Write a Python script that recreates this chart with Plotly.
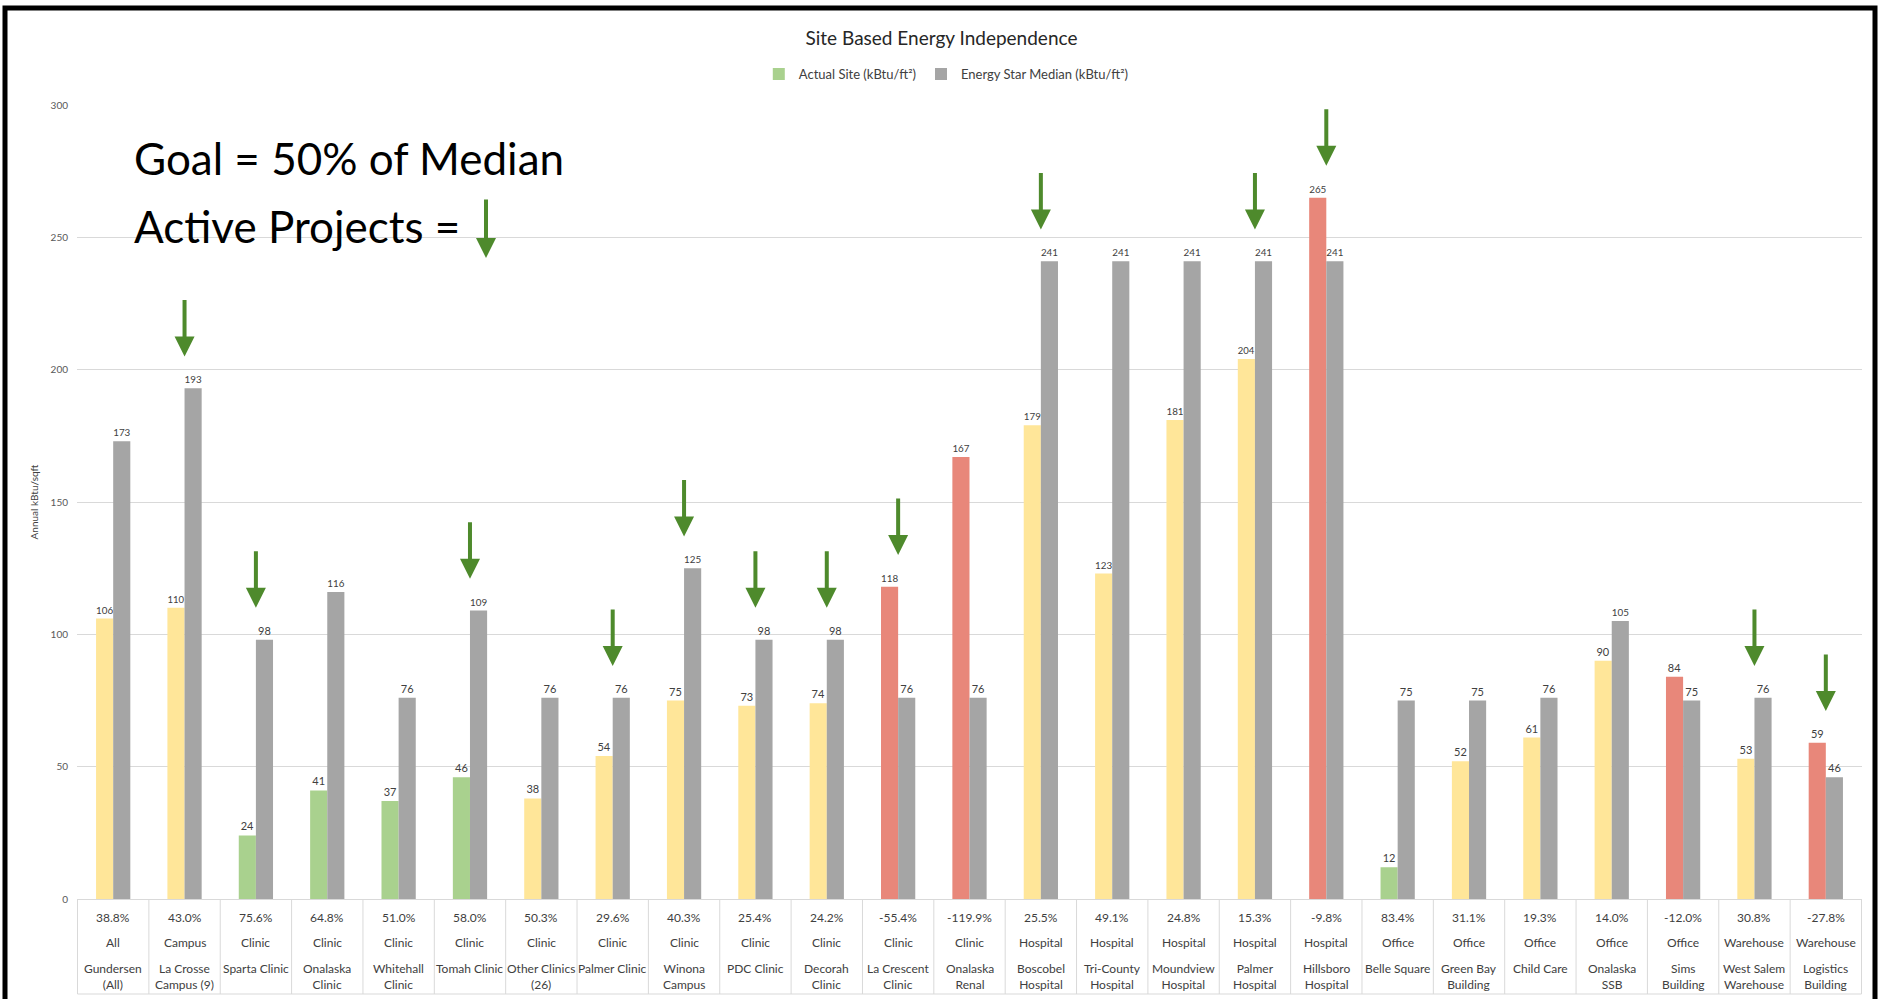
import plotly.graph_objects as go

# ---------------- data ----------------
site_names = [
    "Gundersen\n(All)", "La Crosse\nCampus (9)", "Sparta Clinic", "Onalaska\nClinic",
    "Whitehall\nClinic", "Tomah Clinic", "Other Clinics\n(26)", "Palmer Clinic",
    "Winona\nCampus", "PDC Clinic", "Decorah\nClinic", "La Crescent\nClinic",
    "Onalaska\nRenal", "Boscobel\nHospital", "Tri-County\nHospital", "Moundview\nHospital",
    "Palmer\nHospital", "Hillsboro\nHospital", "Belle Square", "Green Bay\nBuilding",
    "Child Care", "Onalaska\nSSB", "Sims\nBuilding", "West Salem\nWarehouse",
    "Logistics\nBuilding",
]
building_types = [
    "All", "Campus", "Clinic", "Clinic", "Clinic", "Clinic", "Clinic", "Clinic",
    "Clinic", "Clinic", "Clinic", "Clinic", "Clinic", "Hospital", "Hospital",
    "Hospital", "Hospital", "Hospital", "Office", "Office", "Office", "Office",
    "Office", "Warehouse", "Warehouse",
]
savings_pct = [
    38.8, 43.0, 75.6, 64.8, 51.0, 58.0, 50.3, 29.6, 40.3, 25.4, 24.2, -55.4,
    -119.9, 25.5, 49.1, 24.8, 15.3, -9.8, 83.4, 31.1, 19.3, 14.0, -12.0, 30.8, -27.8,
]
actual_site = [
    106, 110, 24, 41, 37, 46, 38, 54, 75, 73, 74, 118, 167, 179, 123, 181, 204,
    265, 12, 52, 61, 90, 84, 53, 59,
]
energy_star_median = [
    173, 193, 98, 116, 76, 109, 76, 76, 125, 98, 98, 76, 76, 241, 241, 241, 241,
    241, 75, 75, 76, 105, 75, 76, 46,
]
goal_status = [
    "progress", "progress", "met", "met", "met", "met", "progress", "progress",
    "progress", "progress", "progress", "over", "over", "progress", "progress",
    "progress", "progress", "over", "met", "progress", "progress", "progress",
    "over", "progress", "over",
]
active_project = [
    False, True, True, False, False, True, False, True, True, True, True, True,
    False, True, False, False, True, True, False, False, False, False, False,
    True, True,
]

# ---------------- styling ----------------
FONT = "Lato"
STATUS_COLORS = {"met": "#A9D18E", "progress": "#FFE699", "over": "#E8877A"}
MEDIAN_COLOR = "#A5A5A5"
ARROW_COLOR = "#4E8A2C"
GRID = "#D9D9D9"
TABLE_TEXT = "#404040"

W, H = 1883, 999
ML, MR, MT, MB = 77, 21, 105, 100
PW, PH = W - ML - MR, H - MT - MB


def px_x(px):
    return (px - ML) / PW


def px_y(py):
    return (H - MB - py) / PH


x_keys = [n.replace("\n", " ") for n in site_names]

fig = go.Figure()

for status in ["met", "progress", "over"]:
    ys = [a if s == status else None for a, s in zip(actual_site, goal_status)]
    fig.add_trace(go.Bar(
        x=x_keys, y=ys, name="Actual Site (kBtu/ft²)",
        marker=dict(color=STATUS_COLORS[status], line=dict(width=0)),
        offsetgroup="actual", legendgroup="actual",
        showlegend=(status == "met"),
        texttemplate="%{y:.0f}", textposition="outside",
        outsidetextfont=dict(family=FONT, size=11, color="#404040"),
        cliponaxis=False,
    ))

fig.add_trace(go.Bar(
    x=x_keys, y=energy_star_median, name="Energy Star Median (kBtu/ft²)",
    marker=dict(color=MEDIAN_COLOR, line=dict(width=0)),
    offsetgroup="median",
    texttemplate="%{y:.0f}", textposition="outside",
    outsidetextfont=dict(family=FONT, size=11, color="#404040"),
    cliponaxis=False,
))

annotations = []
# active project arrows
for key, a, m, act in zip(x_keys, actual_site, energy_star_median, active_project):
    if act:
        annotations.append(dict(
            x=key, y=max(a, m) + 12, xref="x", yref="y", text="",
            showarrow=True, ax=0, ay=-58, arrowhead=2, arrowsize=1,
            arrowwidth=4, arrowcolor=ARROW_COLOR,
        ))

# data table rows under the axis
for key, p, t, n in zip(x_keys, savings_pct, building_types, site_names):
    annotations.append(dict(x=key, y=px_y(917), xref="x", yref="paper",
                            text=f"{p:.1f}%", showarrow=False, yanchor="middle",
                            font=dict(family=FONT, size=12, color=TABLE_TEXT)))
    annotations.append(dict(x=key, y=px_y(942), xref="x", yref="paper",
                            text=t, showarrow=False, yanchor="middle",
                            font=dict(family=FONT, size=12, color=TABLE_TEXT)))
    annotations.append(dict(x=key, y=px_y(959), xref="x", yref="paper",
                            text=n.replace("\n", "<br>"), showarrow=False,
                            yanchor="top", align="center",
                            font=dict(family=FONT, size=12, color=TABLE_TEXT)))

annotations += [
    dict(x=px_x(132), y=px_y(158), xref="paper", yref="paper", xanchor="left",
         yanchor="middle", text="Goal = 50% of Median", showarrow=False,
         font=dict(family=FONT, size=44, color="#000000")),
    dict(x=px_x(132), y=px_y(226), xref="paper", yref="paper", xanchor="left",
         yanchor="middle", text="Active Projects =", showarrow=False,
         font=dict(family=FONT, size=44, color="#000000")),
    dict(x=px_x(486), y=px_y(258), xref="paper", yref="paper", text="",
         showarrow=True, ax=0, ay=-60, arrowhead=2, arrowsize=1,
         arrowwidth=4, arrowcolor=ARROW_COLOR),
]

shapes = []
# data-table cell borders
table_bottom = px_y(994)
for i in range(len(x_keys) + 1):
    shapes.append(dict(type="line", xref="x", yref="paper", x0=i - 0.5, x1=i - 0.5,
                       y0=0, y1=table_bottom, line=dict(color=GRID, width=1)))
shapes.append(dict(type="line", xref="x", yref="paper", x0=-0.5,
                   x1=len(x_keys) - 0.5, y0=table_bottom, y1=table_bottom,
                   line=dict(color=GRID, width=1)))
# outer black frame
shapes.append(dict(type="rect", xref="paper", yref="paper",
                   x0=px_x(5), x1=px_x(1875), y0=px_y(1010), y1=px_y(8),
                   line=dict(color="#000000", width=5), fillcolor="rgba(0,0,0,0)",
                   layer="above"))

fig.update_layout(
    width=W, height=H,
    margin=dict(l=ML, r=MR, t=MT, b=MB, pad=0),
    paper_bgcolor="white", plot_bgcolor="white",
    font=dict(family=FONT, color="#404040"),
    barmode="group", bargap=0.52, bargroupgap=0,
    title=dict(text="Site Based Energy Independence", x=0.5, xanchor="center",
               y=1 - 38 / H, yanchor="middle",
               font=dict(family=FONT, size=19, color="#262626")),
    legend=dict(orientation="h", x=0.487, xanchor="center", y=px_y(74),
                yanchor="middle", font=dict(family=FONT, size=13, color="#404040"),
                bgcolor="rgba(0,0,0,0)", traceorder="normal"),
    xaxis=dict(type="category", showticklabels=False, ticks="", showgrid=False,
               zeroline=False, showline=True, linecolor=GRID, linewidth=1),
    yaxis=dict(range=[0, 300], dtick=50, showgrid=True, gridcolor=GRID,
               gridwidth=1, zeroline=False, ticks="", showline=False,
               ticklabelstandoff=8,
               tickfont=dict(family=FONT, size=10, color="#595959"),
               title=dict(text="Annual kBtu/sqft", standoff=10,
                          font=dict(family=FONT, size=10, color="#404040"))),
    annotations=annotations,
    shapes=shapes,
    hovermode=False,
)

fig.write_html("out.html", config={"displayModeBar": False})
